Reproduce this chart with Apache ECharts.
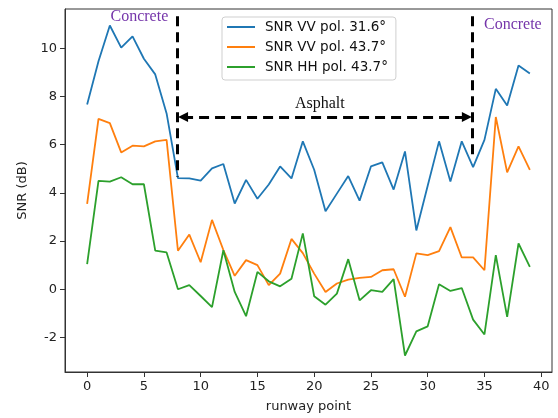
<!DOCTYPE html>
<html>
<head>
<meta charset="utf-8">
<script src="https://cdn.jsdelivr.net/npm/echarts@6/dist/echarts.min.js"></script>
<style>
  html, body { margin: 0; padding: 0; background: #fff; }
  #chart { width: 558px; height: 418px; }
</style>
</head>
<body>
<div id="chart"></div>
<script>
// runway points 0..39
const points = Array.from({ length: 40 }, (_, i) => i)

// SNR values (dB)
const snrVV316 = [7.67, 9.47, 10.95, 10.03, 10.5, 9.57, 8.92, 7.3, 4.61, 4.6,
  4.51, 5.02, 5.2, 3.56, 4.54, 3.76, 4.35, 5.1, 4.6, 6.14,
  4.96, 3.24, 3.97, 4.7, 3.68, 5.1, 5.27, 4.14, 5.72, 2.44,
  4.3, 6.14, 4.47, 6.14, 5.07, 6.2, 8.32, 7.63, 9.29, 8.96]
const snrVV437 = [3.54, 7.07, 6.9, 5.68, 5.96, 5.93, 6.14, 6.2, 1.6, 2.27,
  1.12, 2.88, 1.63, 0.56, 1.21, 1.0, 0.17, 0.65, 2.09, 1.5,
  0.65, -0.11, 0.24, 0.4, 0.47, 0.51, 0.79, 0.83, -0.31, 1.49,
  1.42, 1.58, 2.58, 1.32, 1.32, 0.79, 7.15, 4.85, 5.93, 4.96]
const snrHH437 = [1.04, 4.5, 4.47, 4.65, 4.36, 4.36, 1.6, 1.53, 0.0, 0.17,
  -0.28, -0.74, 1.62, -0.11, -1.12, 0.72, 0.33, 0.12, 0.44, 2.32,
  -0.29, -0.64, -0.18, 1.25, -0.46, -0.04, -0.11, 0.42, -2.75, -1.75,
  -1.54, 0.21, -0.07, 0.05, -1.26, -1.875, 1.42, -1.15, 1.9, 0.93]

const seriesNames = ['SNR VV pol. 31.6°', 'SNR VV pol. 43.7°', 'SNR HH pol. 43.7°']
const colors = ['#1f77b4', '#ff7f0e', '#2ca02c']

// tick labels
const xTicks = [0, 5, 10, 15, 20, 25, 30, 35, 40]
const yTicks = [-2, 0, 2, 4, 6, 8, 10]

const chart = echarts.init(document.getElementById('chart'))

const pair = arr => points.map((p, i) => [p, arr[i]])

const sans = 'DejaVu Sans'
const serif = 'Liberation Serif'
const purple = '#7535aa'

const dashed = { color: '#000', width: 3, type: [10, 6] }

const option = {
  animation: false,
  color: colors,
  grid: {
    left: 65, right: 6, top: 9, bottom: 46,
    show: true, borderColor: '#333', borderWidth: 1,
  },
  legend: {
    orient: 'vertical',
    left: 222, top: 17,
    data: seriesNames,
    icon: 'rect',
    itemWidth: 28, itemHeight: 2,
    itemGap: 6,
    padding: [3, 8, 6, 5],
    borderColor: '#cfcfcf', borderWidth: 1, borderRadius: 3,
    backgroundColor: 'rgba(255,255,255,0.9)',
    textStyle: {
      fontFamily: sans, fontSize: 13.5, color: '#111',
      lineHeight: 14, padding: [0, 0, 0, 5],
    },
  },
  xAxis: {
    type: 'value',
    min: -1.95, max: 40.95,
    name: 'runway point',
    nameLocation: 'middle',
    nameGap: 28,
    nameTextStyle: { fontFamily: sans, fontSize: 13, color: '#222' },
    splitLine: { show: false },
    axisLine: { onZero: false, lineStyle: { color: '#333' } },
    axisTick: { customValues: xTicks, length: 5, lineStyle: { color: '#333' } },
    axisLabel: {
      customValues: xTicks, margin: 8,
      fontFamily: sans, fontSize: 13, color: '#222',
    },
  },
  yAxis: {
    type: 'value',
    min: -3.435, max: 11.635,
    name: 'SNR (dB)',
    nameLocation: 'middle',
    nameGap: 36,
    nameTextStyle: { fontFamily: sans, fontSize: 13, color: '#222' },
    splitLine: { show: false },
    axisLine: { show: true, onZero: false, lineStyle: { color: '#333' } },
    axisTick: { show: true, customValues: yTicks, length: 5, lineStyle: { color: '#333' } },
    axisLabel: {
      customValues: yTicks, margin: 8,
      fontFamily: sans, fontSize: 13, color: '#222',
    },
  },
  series: [
    { name: seriesNames[0], type: 'line', data: pair(snrVV316) },
    { name: seriesNames[1], type: 'line', data: pair(snrVV437) },
    { name: seriesNames[2], type: 'line', data: pair(snrHH437) },
  ].map(s => Object.assign(s, {
    showSymbol: false,
    symbol: 'none',
    lineStyle: { width: 1.8 },
    z: 3,
  })).concat([
    {
      // annotations: surface boundaries, arrow and labels
      type: 'line',
      data: [],
      silent: true,
      z: 4,
      markLine: {
        silent: true,
        animation: false,
        label: { show: false },
        data: [
          [{ coord: [7.92, 11.33], symbol: 'none', lineStyle: dashed },
            { coord: [7.92, 4.67], symbol: 'none' }],
          [{ coord: [33.95, 11.33], symbol: 'none', lineStyle: dashed },
            { coord: [33.95, 5.5], symbol: 'none' }],
          [{ coord: [8.45, 7.15], symbol: 'triangle', symbolSize: [10, 10],
            lineStyle: dashed },
            { coord: [33.45, 7.15], symbol: 'triangle', symbolSize: [10, 10] }],
        ],
        lineStyle: dashed,
        itemStyle: { color: '#000' },
      },
      markPoint: {
        silent: true,
        symbol: 'circle',
        symbolSize: 0,
        label: {
          show: true, position: 'inside',
          fontFamily: serif, fontSize: 16,
        },
        data: [
          { coord: [4.6, 11.33], label: { formatter: 'Concrete', color: purple } },
          { coord: [37.5, 10.96], label: { formatter: 'Concrete', color: purple } },
          { coord: [20.5, 7.7], label: { formatter: 'Asphalt', color: '#111' } },
        ],
      },
    },
  ]),
}

chart.setOption(option)
</script>
</body>
</html>
